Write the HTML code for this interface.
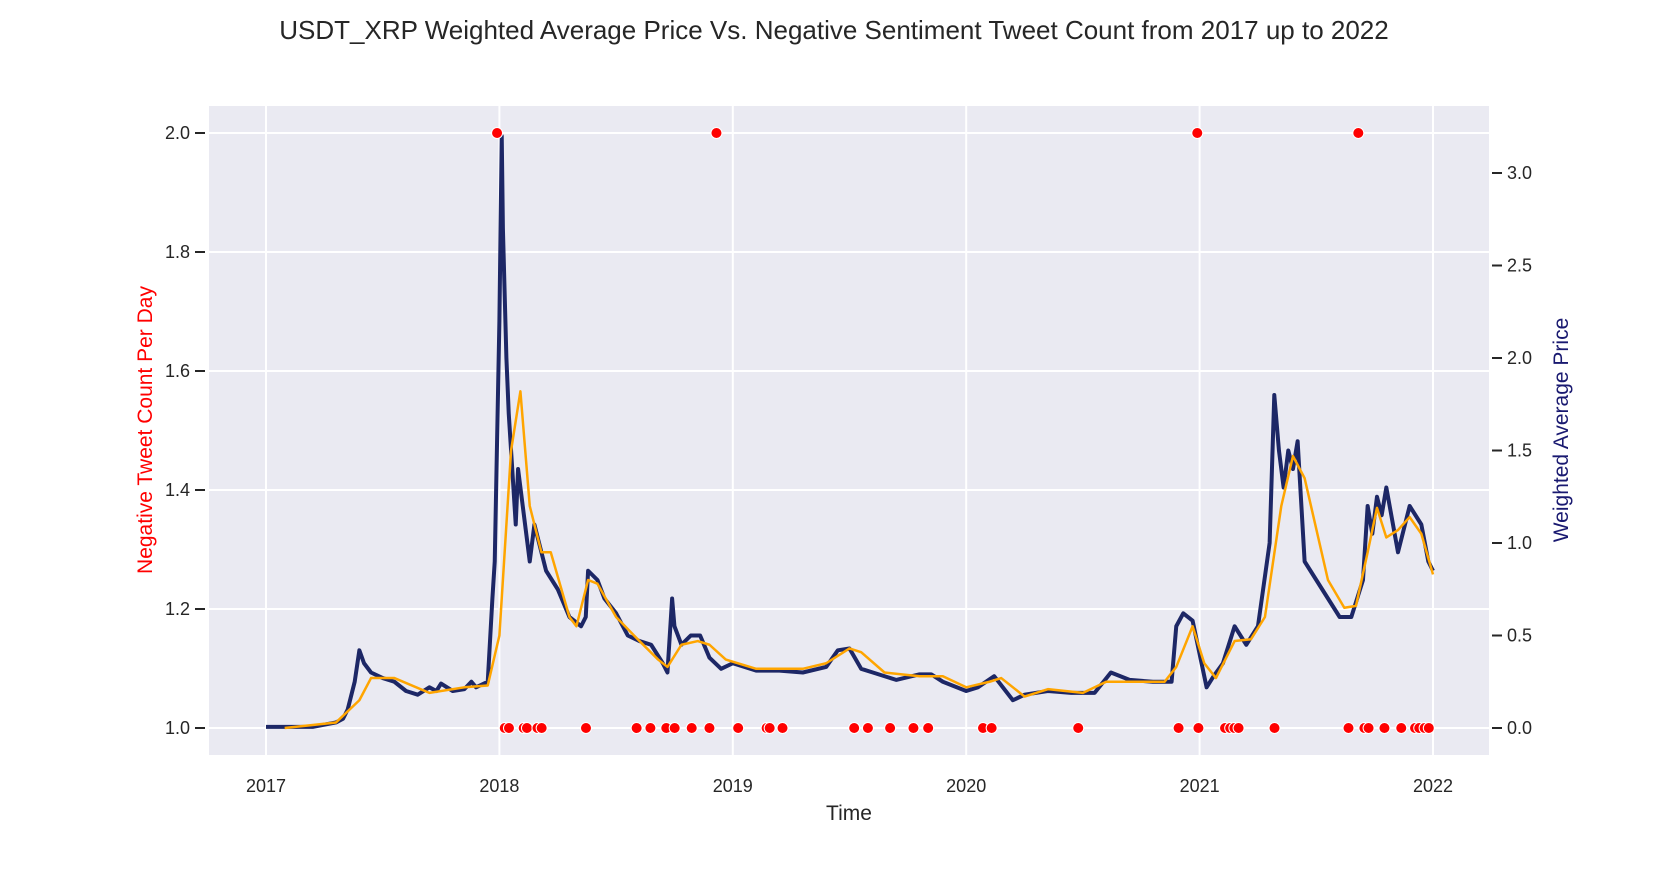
<!DOCTYPE html>
<html><head><meta charset="utf-8"><style>
body{margin:0;background:#fff;}
svg text{font-family:"Liberation Sans",Arial,sans-serif;}
</style></head><body>
<svg id="chart" width="1656" height="864" xmlns="http://www.w3.org/2000/svg">
<text x="834" y="39" text-anchor="middle" font-size="26" fill="#262626">USDT_XRP Weighted Average Price Vs. Negative Sentiment Tweet Count from 2017 up to 2022</text>
<rect x="209" y="106" width="1280" height="649" fill="#eaeaf2"/>
<g id="grid"></g>
<g id="series"></g>
<g id="axes"></g>
<text x="849" y="820" text-anchor="middle" font-size="21" fill="#262626">Time</text>
<text transform="translate(152,430) rotate(-90)" text-anchor="middle" font-size="21" fill="#ff0000">Negative Tweet Count Per Day</text>
<text transform="translate(1568,430) rotate(-90)" text-anchor="middle" font-size="21" fill="#191970">Weighted Average Price</text>
</svg>
<script>
const priceDates=[2017.0,2017.2,2017.3,2017.33,2017.35,2017.38,2017.4,2017.42,2017.45,2017.5,2017.55,2017.6,2017.65,2017.7,2017.73,2017.75,2017.8,2017.85,2017.88,2017.9,2017.95,2017.97,2017.98,2018.0,2018.01,2018.015,2018.03,2018.04,2018.05,2018.07,2018.08,2018.1,2018.12,2018.13,2018.15,2018.17,2018.2,2018.25,2018.3,2018.35,2018.37,2018.38,2018.42,2018.45,2018.5,2018.55,2018.6,2018.65,2018.7,2018.72,2018.74,2018.75,2018.78,2018.82,2018.86,2018.9,2018.95,2019.0,2019.1,2019.2,2019.3,2019.4,2019.45,2019.5,2019.55,2019.6,2019.7,2019.8,2019.85,2019.9,2020.0,2020.05,2020.12,2020.2,2020.25,2020.35,2020.45,2020.55,2020.62,2020.7,2020.8,2020.88,2020.9,2020.93,2020.97,2021.0,2021.03,2021.06,2021.1,2021.15,2021.2,2021.25,2021.3,2021.32,2021.34,2021.36,2021.38,2021.4,2021.42,2021.45,2021.5,2021.55,2021.6,2021.65,2021.7,2021.72,2021.74,2021.76,2021.78,2021.8,2021.85,2021.88,2021.9,2021.95,2021.98,2022.0];
const priceValues=[0.006,0.006,0.03,0.05,0.1,0.25,0.42,0.35,0.3,0.27,0.25,0.2,0.18,0.22,0.2,0.24,0.2,0.21,0.25,0.22,0.25,0.7,0.9,2.2,3.2,2.7,2.0,1.7,1.5,1.1,1.4,1.2,1.0,0.9,1.1,1.0,0.85,0.75,0.6,0.55,0.6,0.85,0.8,0.7,0.62,0.5,0.47,0.45,0.35,0.3,0.7,0.55,0.45,0.5,0.5,0.38,0.32,0.35,0.31,0.31,0.3,0.33,0.42,0.43,0.32,0.3,0.26,0.29,0.29,0.25,0.2,0.22,0.28,0.15,0.18,0.2,0.19,0.19,0.3,0.26,0.25,0.25,0.55,0.62,0.58,0.4,0.22,0.28,0.35,0.55,0.45,0.55,1.0,1.8,1.5,1.3,1.5,1.4,1.55,0.9,0.8,0.7,0.6,0.6,0.8,1.2,1.05,1.25,1.15,1.3,0.95,1.1,1.2,1.1,0.9,0.85];
const maDates=[2017.08,2017.3,2017.4,2017.45,2017.55,2017.7,2017.85,2017.95,2018.0,2018.05,2018.09,2018.13,2018.18,2018.22,2018.3,2018.33,2018.38,2018.42,2018.5,2018.6,2018.68,2018.72,2018.78,2018.85,2018.9,2018.97,2019.1,2019.3,2019.4,2019.5,2019.55,2019.65,2019.8,2019.9,2020.0,2020.1,2020.15,2020.25,2020.35,2020.5,2020.6,2020.7,2020.85,2020.9,2020.97,2021.02,2021.07,2021.15,2021.22,2021.28,2021.35,2021.4,2021.45,2021.55,2021.62,2021.67,2021.72,2021.76,2021.8,2021.85,2021.9,2021.95,2022.0];
const maValues=[0.0,0.03,0.15,0.27,0.27,0.19,0.22,0.23,0.5,1.5,1.82,1.2,0.95,0.95,0.6,0.55,0.8,0.78,0.6,0.47,0.37,0.33,0.45,0.47,0.45,0.37,0.32,0.32,0.35,0.43,0.41,0.3,0.28,0.28,0.22,0.25,0.27,0.17,0.21,0.19,0.25,0.25,0.25,0.33,0.55,0.35,0.27,0.47,0.48,0.6,1.2,1.47,1.35,0.8,0.65,0.66,0.95,1.19,1.03,1.07,1.14,1.05,0.83];
const tweetDates=[2017.99,2018.93,2020.99,2021.68,2018.023,2018.041,2018.104,2018.118,2018.163,2018.181,2018.371,2018.588,2018.647,2018.715,2018.751,2018.824,2018.900,2019.023,2019.145,2019.158,2019.213,2019.520,2019.579,2019.674,2019.774,2019.837,2020.072,2020.109,2020.480,2020.910,2020.995,2021.109,2021.131,2021.149,2021.167,2021.321,2021.638,2021.706,2021.724,2021.792,2021.864,2021.923,2021.941,2021.964,2021.982];
const tweetCounts=[2,2,2,2,1,1,1,1,1,1,1,1,1,1,1,1,1,1,1,1,1,1,1,1,1,1,1,1,1,1,1,1,1,1,1,1,1,1,1,1,1,1,1,1,1];
const xTicks=[2017,2018,2019,2020,2021,2022];
const leftTicks=[1.0,1.2,1.4,1.6,1.8,2.0];
const rightTicks=[0.0,0.5,1.0,1.5,2.0,2.5,3.0];
const NS='http://www.w3.org/2000/svg';
const X=d=>266+(d-2017)*233.4;
const YL=v=>728-(v-1)*595;
const YR=v=>728-v*185;
function mk(p,t,a){const e=document.createElementNS(NS,t);for(const k in a)e.setAttribute(k,a[k]);p.appendChild(e);return e;}
const grid=document.getElementById('grid'),ser=document.getElementById('series'),ax=document.getElementById('axes');
xTicks.forEach(t=>{
 const l=mk(grid,'line',{x1:X(t),x2:X(t),y1:106,y2:755,stroke:'#fff','stroke-width':2});
 
 
 const tx=mk(ax,'text',{x:X(t),y:792,'text-anchor':'middle','font-size':18,fill:'#262626'});tx.textContent=t;
 
 
});
leftTicks.forEach(t=>{
 const l=mk(grid,'line',{x1:209,x2:1489,y1:YL(t),y2:YL(t),stroke:'#fff','stroke-width':2});
 
 
 mk(ax,'line',{x1:195,x2:205,y1:YL(t),y2:YL(t),stroke:'#262626','stroke-width':2});
 const tx=mk(ax,'text',{x:190,y:YL(t)+6,'text-anchor':'end','font-size':18,fill:'#262626'});tx.textContent=t.toFixed(1);
 
 
});
rightTicks.forEach(t=>{
 mk(ax,'line',{x1:1492,x2:1502,y1:YR(t),y2:YR(t),stroke:'#262626','stroke-width':2});
 const tx=mk(ax,'text',{x:1507,y:YR(t)+6,'font-size':18,fill:'#262626'});tx.textContent=t.toFixed(1);
 
 
});
const pp=mk(ser,'polyline',{points:priceDates.map((d,i)=>X(d)+','+YR(priceValues[i])).join(' '),fill:'none',stroke:'#1d2766','stroke-width':4,'stroke-linejoin':'round'});


const mp=mk(ser,'polyline',{points:maDates.map((d,i)=>X(d)+','+YR(maValues[i])).join(' '),fill:'none',stroke:'#ffa500','stroke-width':2.5,'stroke-linejoin':'round'});


tweetDates.forEach((d,i)=>{
 const c=mk(ser,'circle',{cx:X(d),cy:YL(tweetCounts[i]),r:5.5,fill:'#ff0000',stroke:'#fff','stroke-width':1});
 
 
});
</script>
</body></html>
